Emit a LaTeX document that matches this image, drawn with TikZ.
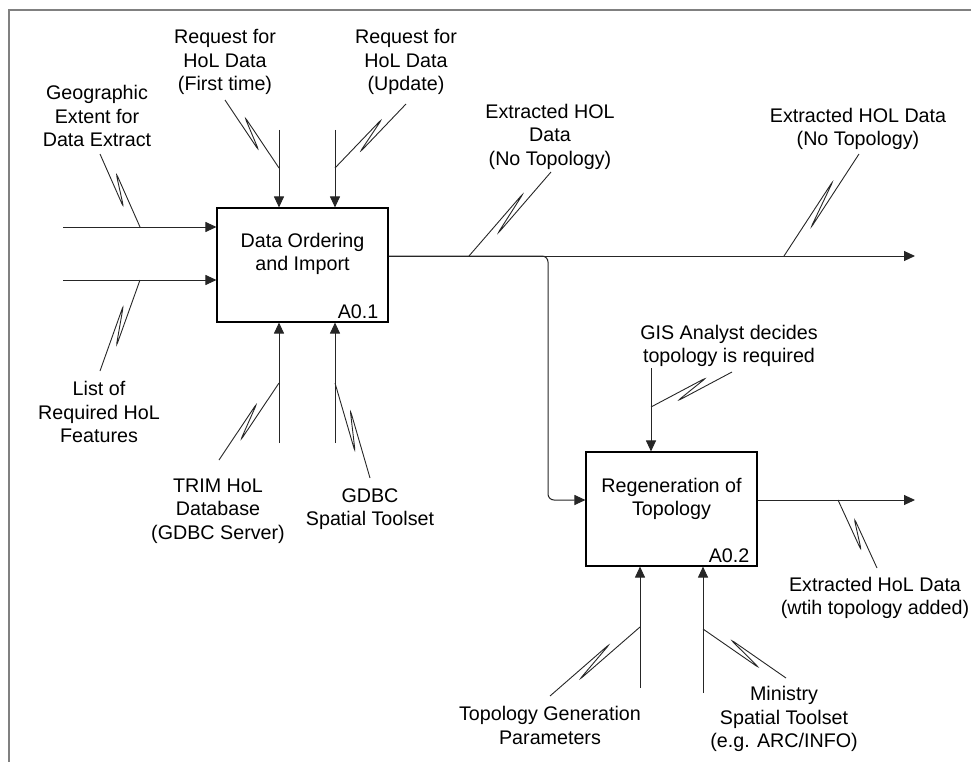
\documentclass[tikz,border=0pt]{standalone}
\usepackage{fontspec}
\setmainfont{Liberation Sans}
\usetikzlibrary{calc,arrows.meta}

% Squiggle joining a label to its arrow:
% #1, #2 = turn angles of the two bends, #3 = label end, #4 = arrow end
\newcommand\squiggle[4]{%
  \path (#3) -- (#4) coordinate[pos=0.70] (sq1) coordinate[pos=0.29] (sq2);
  \draw[squig] (#3) -- ($(sq1)!5pt!#1:(#4)$) -- ($(sq2)!5pt!#2:(#4)$) -- (#4);
}

\begin{document}
\begin{tikzpicture}[x=1pt,y=-1pt,
  every node/.style={font=\fontsize{19.7}{23.5}\selectfont, inner sep=0pt, align=center},
  frame/.style={draw=black!50, line width=2pt},
  box/.style={draw=black, line width=1.1pt, minimum width=171pt, minimum height=114pt},
  flow/.style={draw=black!85, line width=1pt},
  arr/.style={flow, -{Triangle[length=11pt,width=10pt]}},
  squig/.style={draw=black!85, line width=0.9pt, rounded corners=4pt},
  code/.style={anchor=south east}]

\useasboundingbox (0,0) rectangle (971,762);

% page frame (top and left edges)
\coordinate (fTL) at (9,10);
\coordinate (fTR) at (971,10);
\coordinate (fBL) at (9,762);
\draw[frame] (fTR) -- (fTL) -- (fBL);

% activity boxes
\node[box] (box1) at (302.5,265) {};
\node (box1t) at ($(box1.center)+(0,-11)$) {Data Ordering\\and Import};
\node[code] (box1c) at ($(box1.south east)+(-10,-4)$) {A0.1};

\node[box] (box2) at (671.5,509) {};
\node (box2t) at ($(box2.center)+(0,-10)$) {Regeneration of\\Topology};
\node[code] (box2c) at ($(box2.south east)+(-8,-4)$) {A0.2};

% inputs to A0.1
\coordinate (in1) at (63,227);
\coordinate (in2) at (63,280);
\draw[arr] (in1) -- (in1 -| box1.west);
\draw[arr] (in2) -- (in2 -| box1.west);

% controls of A0.1
\coordinate (c1) at (279,130);
\coordinate (c2) at (335,130);
\draw[arr] (c1) -- (c1 |- box1.north);
\draw[arr] (c2) -- (c2 |- box1.north);

% mechanisms of A0.1
\coordinate (m1) at (279,443);
\coordinate (m2) at (335,443);
\draw[arr] (m1) -- (m1 |- box1.south);
\draw[arr] (m2) -- (m2 |- box1.south);

% output of A0.1 and branch into A0.2
\coordinate (o1s) at (388,256);
\coordinate (o1e) at (915,256);
\coordinate (j1) at (548,256);
\coordinate (j2) at (548,500);
\draw[arr] (o1s -| box1.east) -- (o1e);
\draw[arr, rounded corners=6pt] (o1s -| box1.east) -- (j1) -- (j2) -- (j2 -| box2.west);

% control of A0.2
\coordinate (c3) at (651,368);
\draw[arr] (c3) -- (c3 |- box2.north);

% output of A0.2
\coordinate (o2e) at (915,500);
\draw[arr] (o2e -| box2.east) -- (o2e);

% mechanisms of A0.2
\coordinate (m3) at (640,688);
\coordinate (m4) at (703,693);
\draw[arr] (m3) -- (m3 |- box2.south);
\draw[arr] (m4) -- (m4 |- box2.south);

% labels
\node (geo) at (97,116) {Geographic\\Extent for\\Data Extract};
\node (reqFirst) at (225,62) {Request for\\HoL Data\\(First time)};
\node (reqUpd) at (406,62) {Request for\\HoL Data\\(Update)};
\node (extA) at (550,136.5) {Extracted HOL\\Data\\(No Topology)};
\node (extB) at (858,129) {Extracted HOL Data\\(No Topology)};
\node (list) at (99,412) {List of\\Required HoL\\Features};
\node (trim) at (218,511) {TRIM HoL\\Database\\(GDBC Server)};
\node (gdbc) at (370,509) {GDBC\\Spatial Toolset};
\node (gis) at (729,346) {GIS Analyst decides\\topology is required};
\node (extC) at (875,598) {Extracted HoL Data\\(wtih topology added)};
\node (topo) at (550,725.5) {Topology Generation\\Parameters};
\node (mini) at (784,719) {Ministry\\Spatial Toolset\\(e.g. ARC/INFO)};

% squiggle end points (label side, arrow side)
\coordinate (geoL) at (100,154);  \coordinate (geoA) at (140,227);
\coordinate (rfL) at (225,100);   \coordinate (rfA) at (279,168);
\coordinate (ruL) at (406,104);   \coordinate (ruA) at (335,168);
\coordinate (exAL) at (551,172);  \coordinate (exAA) at (469,256);
\coordinate (exBL) at (859,154);  \coordinate (exBA) at (784,256);
\coordinate (liL) at (100,371);   \coordinate (liA) at (140,280);
\coordinate (trL) at (219,460);   \coordinate (trA) at (279,383);
\coordinate (gdL) at (370,478);   \coordinate (gdA) at (335,383);
\coordinate (giL) at (732,372);   \coordinate (giA) at (651,407);
\coordinate (exCL) at (877,568);  \coordinate (exCA) at (838,500);
\coordinate (toL) at (550,696);   \coordinate (toA) at (640,627);
\coordinate (miL) at (786,678);   \coordinate (miA) at (703,629);

\squiggle{-90}{90}{geoL}{geoA}
\squiggle{-90}{90}{rfL}{rfA}
\squiggle{90}{-90}{ruL}{ruA}
\squiggle{90}{-90}{exAL}{exAA}
\squiggle{90}{-90}{exBL}{exBA}
\squiggle{90}{-90}{liL}{liA}
\squiggle{90}{-90}{trL}{trA}
\squiggle{-90}{90}{gdL}{gdA}
\squiggle{90}{-90}{giL}{giA}
\squiggle{-90}{90}{exCL}{exCA}
\squiggle{90}{-90}{toL}{toA}
\squiggle{-90}{90}{miL}{miA}

\end{tikzpicture}
\end{document}
